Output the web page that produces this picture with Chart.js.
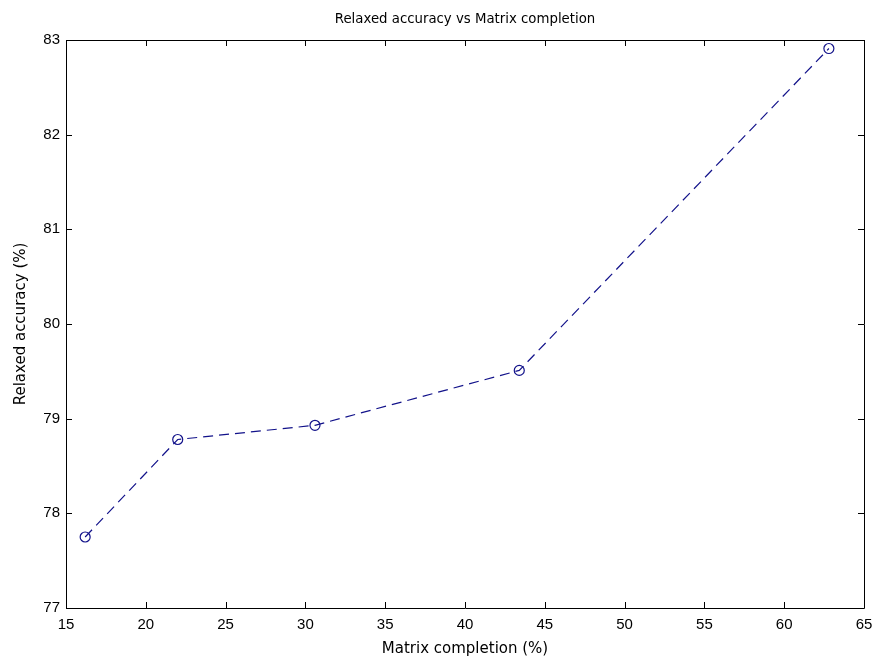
<!DOCTYPE html>
<html>
<head>
<meta charset="utf-8">
<script src="https://cdn.jsdelivr.net/npm/chart.js@4"></script>
<style>
html,body{margin:0;padding:0;background:#fff;}
#wrap{width:873px;height:658px;}
</style>
</head>
<body>
<div id="wrap"><canvas id="c" width="873" height="658"></canvas></div>
<script>
const completion = [16.2, 22.0, 30.6, 43.4, 62.8];
const accuracy = [77.75, 78.78, 78.93, 79.51, 82.91];
const xTicks = [15, 20, 25, 30, 35, 40, 45, 50, 55, 60, 65];
const yTicks = [77, 78, 79, 80, 81, 82, 83];
const titleText = 'Relaxed accuracy vs Matrix completion';
const xLabel = 'Matrix completion (%)';
const yLabel = 'Relaxed accuracy (%)';

const FONT = '"Liberation Sans", Arial, Helvetica, sans-serif';
const LFONT = '"DejaVu Sans", Verdana, sans-serif';
const lineColor = '#12128a';

const boxPlugin = {
  id: 'box',
  afterDraw(chart) {
    const ctx = chart.ctx;
    const a = chart.chartArea;
    const xs = chart.scales.x, ys = chart.scales.y;
    ctx.save();
    ctx.strokeStyle = '#000';
    ctx.lineWidth = 1;
    ctx.beginPath();
    ctx.rect(Math.round(a.left) + 0.5, Math.round(a.top) + 0.5, Math.round(a.right - a.left), Math.round(a.bottom - a.top));
    ctx.stroke();
    const L = 6;
    ctx.beginPath();
    xTicks.forEach(v => {
      const px = Math.round(xs.getPixelForValue(v)) + 0.5;
      ctx.moveTo(px, a.bottom); ctx.lineTo(px, a.bottom - L);
      ctx.moveTo(px, a.top); ctx.lineTo(px, a.top + L);
    });
    yTicks.forEach(v => {
      const py = Math.round(ys.getPixelForValue(v)) + 0.5;
      ctx.moveTo(a.left, py); ctx.lineTo(a.left + L, py);
      ctx.moveTo(a.right, py); ctx.lineTo(a.right - L, py);
    });
    ctx.stroke();
    // title centred over the axes box
    ctx.fillStyle = '#000';
    ctx.font = '13.3px ' + LFONT;
    ctx.textAlign = 'center';
    ctx.textBaseline = 'middle';
    ctx.fillText(titleText, (a.left + a.right) / 2, 20);
    ctx.restore();
  }
};

new Chart(document.getElementById('c'), {
  type: 'scatter',
  data: {
    datasets: [{
      data: completion.map((x, i) => ({x: x, y: accuracy[i]})),
      showLine: true,
      borderColor: lineColor,
      borderWidth: 1.2,
      borderDash: [10, 6],
      pointStyle: 'circle',
      pointRadius: 5,
      pointBorderWidth: 1.2,
      pointBorderColor: lineColor,
      pointBackgroundColor: 'rgba(0,0,0,0)',
      tension: 0
    }]
  },
  options: {
    responsive: false,
    animation: false,
    layout: {padding: {left: 12, right: 0, top: 40, bottom: 0}},
    plugins: {
      legend: {display: false},
      tooltip: {enabled: false},
      title: {display: false}
    },
    scales: {
      x: {
        type: 'linear',
        min: 15, max: 65,
        afterBuildTicks(s) { s.ticks = xTicks.map(v => ({value: v})); },
        afterFit(s) { s.height = 50; s.paddingRight = 9; },
        grid: {display: false, drawTicks: false},
        border: {display: false},
        ticks: {color: '#000', font: {family: FONT, size: 15}, padding: 8, maxRotation: 0},
        title: {display: true, text: xLabel, color: '#000', font: {family: LFONT, size: 15}, padding: {top: 1, bottom: 0}}
      },
      y: {
        type: 'linear',
        min: 77, max: 83,
        afterBuildTicks(s) { s.ticks = yTicks.map(v => ({value: v})); },
        afterFit(s) { s.width = 54; },
        grid: {display: false, drawTicks: false},
        border: {display: false},
        ticks: {color: '#000', font: {family: FONT, size: 15}, padding: 6},
        title: {display: true, text: yLabel, color: '#000', font: {family: LFONT, size: 15}, padding: {top: 0, bottom: 4}}
      }
    }
  },
  plugins: [boxPlugin]
});
</script>
</body>
</html>
